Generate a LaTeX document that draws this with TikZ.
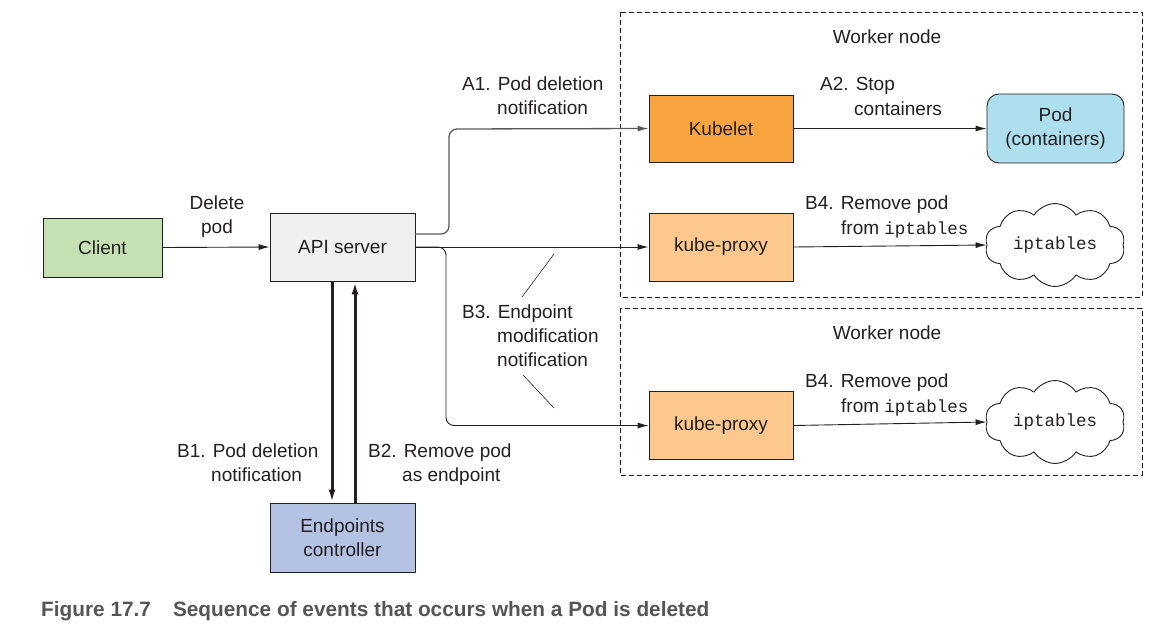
\documentclass[tikz,border=0pt]{standalone}
\usepackage{fontspec}
\setmainfont{Liberation Sans}
\setmonofont{Liberation Mono}
\newfontfamily\capfont{Liberation Sans Bold}
\usetikzlibrary{arrows.meta,shapes.symbols}
\definecolor{txt}{HTML}{231F20}
\definecolor{clientc}{HTML}{C5E0B3}
\definecolor{apic}{HTML}{F0F0F0}
\definecolor{kubeletc}{HTML}{F8A541}
\definecolor{proxyc}{HTML}{FCC88D}
\definecolor{podc}{HTML}{ADDFEE}
\definecolor{epc}{HTML}{B4C2E3}
\definecolor{capc}{HTML}{555555}
\begin{document}
\begin{tikzpicture}[x=1pt,y=-1pt,
  every node/.style={text=txt,font=\fontsize{19}{24}\selectfont},
  box/.style={draw=txt,line width=0.9pt,inner sep=0pt,align=center},
  lbl/.style={anchor=base west,inner sep=0pt},
  conn/.style={draw=txt,line width=0.9pt,-{Latex[length=11pt,width=6pt]}},
  thick conn/.style={draw=txt,line width=3pt,-{Latex[length=13pt,width=7pt]}},
  pointer/.style={draw=txt,line width=0.6pt},
  worker/.style={draw=txt,dashed,dash pattern=on 5pt off 3pt,line width=0.8pt},
  cloudn/.style={cloud,draw=txt,line width=0.9pt,cloud puffs=10,cloud puff arc=115,aspect=1.8,minimum width=140pt,minimum height=78pt,inner sep=0pt,font=\ttfamily\fontsize{17.5}{20}\selectfont}
]
\useasboundingbox (0,0) rectangle (1161,625);

% worker node frames
\draw[worker] (620,12) rectangle (1142,297);
\draw[worker] (620,308) rectangle (1142,475);
\node (w1) at (887,37) {Worker node};
\node (w2) at (887,333) {Worker node};

% nodes
\node[box,fill=clientc,minimum width=119pt,minimum height=59pt] (client) at (102.5,247.5) {Client};
\node[box,fill=apic,minimum width=145pt,minimum height=68pt] (api) at (342.5,247) {API server};
\node[box,fill=kubeletc,minimum width=144pt,minimum height=67pt] (kubelet) at (721,128.5) {Kubelet};
\node[box,fill=podc,rounded corners=12pt,minimum width=137pt,minimum height=69pt] (pod) at (1055.5,128.5) {Pod\\(containers)};
\node[box,fill=proxyc,minimum width=144pt,minimum height=68pt] (kp1) at (721,247) {kube-proxy};
\node[box,fill=proxyc,minimum width=144pt,minimum height=68pt] (kp2) at (721,425.5) {kube-proxy};
\node[box,fill=epc,minimum width=145pt,minimum height=69pt] (ep) at (342.5,537.5) {Endpoints\\controller};
\node[cloudn] (ipt1) at (1055,245) {iptables};
\node[cloudn] (ipt2) at (1055,422) {iptables};

% connectors
\draw[conn] (client.east) -- (api.west);
\draw[conn,draw=black!65,line width=1.3pt,rounded corners=8pt] ([yshift=13pt]api.east) -| (449,129) -- (kubelet.west);
\draw[conn] (api.east) -- (kp1.west);
\draw[conn,rounded corners=8pt] (api.east) -| (446,425.5) -- (kp2.west);
\draw[conn] (kubelet.east) -- (pod.west);
\draw[conn] (kp1.east) -- (ipt1.west);
\draw[conn] (kp2.east) -- (ipt2.west);
\draw[thick conn] ([xshift=-10.5pt]api.south) -- ([xshift=-10.5pt]ep.north);
\draw[thick conn] ([xshift=12.5pt]ep.north) -- ([xshift=12.5pt]api.south);

% labels
\node[align=center,inner sep=0pt] (dl) at (217,217) {Delete\\pod};
\node[lbl] (a1) at (462,90) {A1. Pod deletion};
\node[lbl] (a1b) at (497,114) {notification};
\node[lbl] (a2) at (820,90) {A2. Stop};
\node[lbl] (a2b) at (854,115) {containers};
\node[lbl] (b4a) at (805,209) {B4. Remove pod};
\node[lbl] (b4b) at (841,234) {from \texttt{\fontsize{17.5}{20}\selectfont iptables}};
\node[lbl] (b4c) at (805,387) {B4. Remove pod};
\node[lbl] (b4d) at (841,412) {from \texttt{\fontsize{17.5}{20}\selectfont iptables}};
\node[lbl] (b3a) at (462,318) {B3. Endpoint};
\node[lbl] (b3b) at (497,342) {modification};
\node[lbl] (b3c) at (497,366) {notification};
\node[lbl] (b1a) at (177,457) {B1. Pod deletion};
\node[lbl] (b1b) at (211,481) {notification};
\node[lbl] (b2a) at (368,457) {B2. Remove pod};
\node[lbl] (b2b) at (402,481) {as endpoint};

% pointer lines for B3
\coordinate (p1a) at (522,297);
\coordinate (p1b) at (554,254);
\coordinate (p2a) at (523,375);
\coordinate (p2b) at (554,408);
\draw[pointer] (p1a) -- (p1b);
\draw[pointer] (p2a) -- (p2b);

% caption
\node[lbl,text=capc,font=\capfont\fontsize{20.8}{24}\selectfont] (cap) at (41,616.5) {Figure 17.7\hspace{22pt}Sequence of events that occurs when a Pod is deleted};
\end{tikzpicture}
\end{document}
